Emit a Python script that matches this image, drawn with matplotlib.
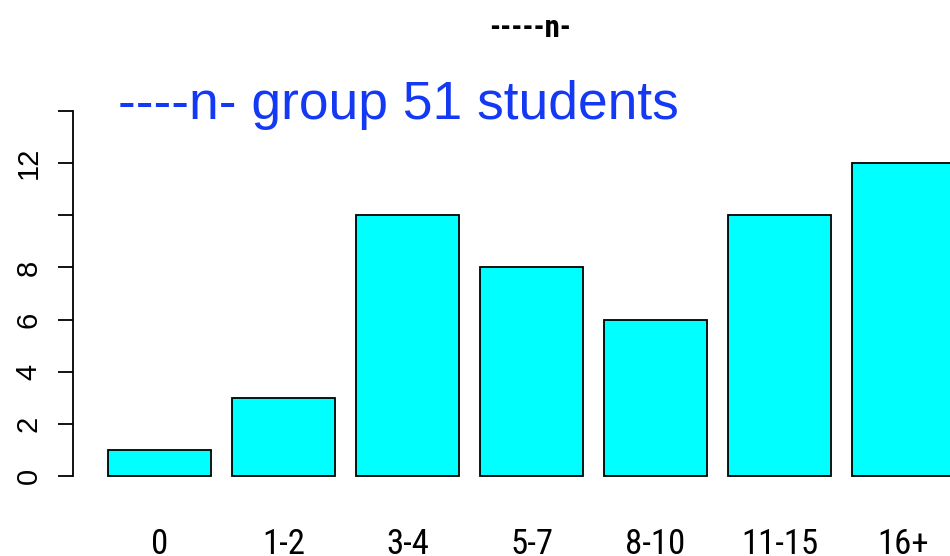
import os
import numpy as np
import matplotlib.pyplot as plt
from matplotlib import font_manager
from matplotlib.font_manager import FontProperties

categories = ["0", "1-2", "3-4", "5-7", "8-10", "11-15", "16+"]
counts = [1, 3, 10, 8, 6, 10, 12]
y_ticks = [0, 2, 4, 6, 8, 10, 12, 14]
y_labels = ["0", "2", "4", "6", "8", "", "12", ""]


def find_narrow(bold=False):
    # look for a condensed sans (R draws these labels narrow)
    prefs = ["LiberationSansNarrow", "RobotoCondensed", "DejaVuSansCondensed",
             "OpenSans_Condensed", "OpenSansCondensed", "NotoSansCondensed"]
    files = [f.fname for f in font_manager.fontManager.ttflist]
    files += font_manager.findSystemFonts()
    for p in prefs:
        for fn in files:
            base = os.path.basename(fn).replace("-", "")
            if not base.startswith(p):
                continue
            is_bold = "Bold" in base
            if is_bold != bold or "Italic" in base or "Oblique" in base:
                continue
            if not bold and any(w in base for w in ["Light", "Medium", "Thin", "Black", "Semi", "Extra"]):
                continue
            return FontProperties(fname=fn)
    return FontProperties(family="Liberation Sans", weight="bold" if bold else "normal")


narrow = find_narrow()
narrow_bold = find_narrow(bold=True)
helv = FontProperties(family="Liberation Sans", size=21)

fig = plt.figure(figsize=(9.5, 5.56), dpi=100)
ax = fig.add_axes([0, 0, 1, 1])

# R barplot layout: width 1, space 0.2
lefts = 0.2 + 1.2 * np.arange(len(counts))
centers = lefts + 0.5
ax.bar(centers, counts, width=1.0, color="#00FFFF", edgecolor="black", linewidth=1.3)

ax.set_xlim(-0.845, 8.35)
ax.set_ylim(-3.07, 18.26)

for s in ["top", "right", "bottom"]:
    ax.spines[s].set_visible(False)
ax.spines["left"].set_bounds(0, 14)
ax.spines["left"].set_position(("data", -0.138))
ax.spines["left"].set_linewidth(1.3)

ax.set_yticks(y_ticks)
ax.set_yticklabels(y_labels, rotation=90, va="center")
ax.tick_params(axis="y", length=11, width=1.3, pad=11)
ax.set_xticks([])
for lab in ax.get_yticklabels():
    lab.set_fontproperties(helv)

for c, lab in zip(centers, categories):
    t = ax.text(c, -3.0, lab, ha="center", va="baseline", fontproperties=narrow)
    t.set_fontsize(25)

t = fig.text(0.558, 0.934, "-----n-", ha="center", va="baseline",
             fontproperties=narrow_bold)
t.set_fontsize(22)
ax.text((118 - 87.3) / 103.3, 13.69, "----n- group 51 students",
        ha="left", va="baseline", fontsize=38.4, color="#1439F5", family="Liberation Sans")

fig.savefig("out.png", dpi=100)
